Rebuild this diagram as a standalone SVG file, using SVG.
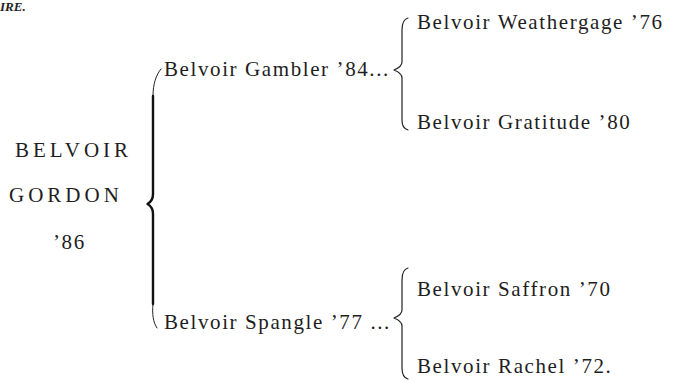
<svg xmlns="http://www.w3.org/2000/svg" width="678" height="381" viewBox="0 0 678 381">
  <style>
    .t { font-size: 21px; fill: #1e1e1e; letter-spacing: 1.6px; }
    .cap { font-size: 21px; fill: #1e1e1e; letter-spacing: 4px; }
    .big { fill: none; stroke: #111; stroke-width: 2.4; stroke-linecap: round; stroke-linejoin: round; }
    .hook { fill: none; stroke: #222; stroke-width: 1; stroke-linecap: round; }
    .small { fill: none; stroke: #222; stroke-width: 1.2; stroke-linecap: round; stroke-linejoin: round; }
  </style>
  <rect width="678" height="381" fill="#ffffff"/>
  <text x="0" y="11" font-family="Liberation Serif, serif" font-size="13" font-style="italic" font-weight="bold" fill="#1e1e1e">IRE.</text>

  <g id="connectors">
    <path class="hook" d="M161 69 C156 75 153 84 153 96"/>
    <path class="big" d="M153 96 L153 194 C153 199 151 202 147.5 204 C151 206 153 209 153 214 L153 304"/>
    <path class="hook" d="M153 304 C152 314 153 322 157 328"/>
    <path class="small" d="M408 18 C404 19 402 23 402 30 L402 62 C402 66 399 68 394 70 C399 72 402 74 402 78 L402 120 C402 126 404 129 408 130"/>
    <path class="small" d="M408 268 C404 269 402 273 402 280 L402 310 C402 314 399 316 394 318 C399 320 402 322 402 326 L402 368 C402 374 404 378 408 379"/>
  </g>

  <g font-family="Liberation Serif, serif">
    <g id="node-belvoir-gordon">
      <text class="cap" x="15" y="157">BELVOIR</text>
      <text class="cap" x="9" y="202">GORDON</text>
      <text class="t" x="53" y="249">’86</text>
    </g>
    <g id="node-gambler">
      <text class="t" x="164" y="76">Belvoir Gambler ’84...</text>
    </g>
    <g id="node-spangle">
      <text class="t" x="164" y="329">Belvoir Spangle ’77 ...</text>
    </g>
    <g id="node-weathergage">
      <text class="t" x="417" y="29">Belvoir Weathergage ’76</text>
    </g>
    <g id="node-gratitude">
      <text class="t" x="417" y="129">Belvoir Gratitude ’80</text>
    </g>
    <g id="node-saffron">
      <text class="t" x="417" y="296">Belvoir Saffron ’70</text>
    </g>
    <g id="node-rachel">
      <text class="t" x="417" y="373">Belvoir Rachel ’72.</text>
    </g>
  </g>
</svg>
